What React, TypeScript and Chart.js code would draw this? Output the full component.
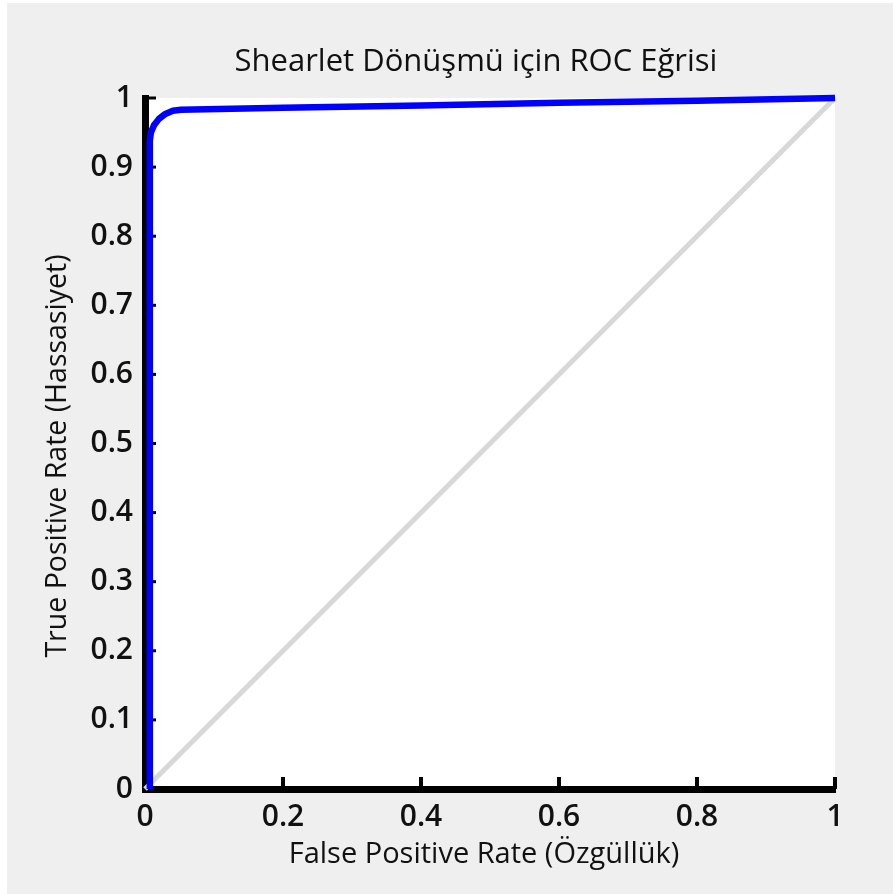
import React, { useEffect, useRef } from "react";
import { Chart, registerables } from "chart.js";

Chart.register(...registerables);

const TITLE = "Shearlet Dönüşmü için ROC Eğrisi";
const X_TITLE = "False Positive Rate (Özgüllük)";
const Y_TITLE = "True Positive Rate (Hassasiyet)";

// ROC curve
const rocFpr = [0.007, 0.007, 0.0085, 0.013, 0.0202, 0.0295, 0.0404, 0.052, 0.2, 0.4, 0.6, 0.8, 1.0];
const rocTpr = [0.0, 0.938, 0.9497, 0.9605, 0.9698, 0.977, 0.9815, 0.983, 0.986, 0.989, 0.993, 0.996, 1.0];

// chance diagonal
const diagFpr = [0, 1];
const diagTpr = [0, 1];

const xTickValues = [0, 0.2, 0.4, 0.6, 0.8, 1];
const yTickValues = [0, 0.1, 0.2, 0.3, 0.4, 0.5, 0.6, 0.7, 0.8, 0.9, 1];

const FONT = "'Open Sans', 'Noto Sans', sans-serif";

const fmt = (v: number) => {
  const r = Math.round(v * 10) / 10;
  return r === 0 ? "0" : r === 1 ? "1" : r.toFixed(1);
};

const backgroundPlugin = {
  id: "bgPlugin",
  beforeDraw(chart: any) {
    const { ctx, width, height, chartArea } = chart;
    ctx.save();
    ctx.fillStyle = "#ffffff";
    ctx.fillRect(0, 0, width, height);
    ctx.fillStyle = "#efefef";
    ctx.fillRect(7, 3, width - 7, height - 3);
    ctx.fillStyle = "#ffffff";
    ctx.fillRect(chartArea.left, chartArea.top, chartArea.right - chartArea.left, chartArea.bottom - chartArea.top);
    ctx.restore();
  },
};

const textPlugin = {
  id: "titles",
  afterDraw(chart: any) {
    const { ctx } = chart;
    ctx.save();
    ctx.fillStyle = "#111111";
    ctx.textAlign = "center";
    ctx.textBaseline = "middle";
    ctx.font = `500 31px ${FONT}`;
    ctx.fillText(TITLE, 476, 62);
    ctx.font = `500 29px ${FONT}`;
    ctx.fillText(X_TITLE, 484, 855);
    ctx.translate(58, 456);
    ctx.rotate(-Math.PI / 2);
    ctx.font = `500 28.5px ${FONT}`;
    ctx.fillText(Y_TITLE, 0, 0);
    ctx.restore();
  },
};

const innerTicksPlugin = {
  id: "innerTicks",
  beforeDatasetsDraw(chart: any) {
    const { ctx, chartArea, scales } = chart;
    ctx.save();
    ctx.strokeStyle = "#000000";
    ctx.lineWidth = 3;
    yTickValues.forEach((v) => {
      const y = scales.y.getPixelForValue(v);
      ctx.beginPath();
      ctx.moveTo(chartArea.left, y);
      ctx.lineTo(chartArea.left + 11, y);
      ctx.stroke();
    });
    ctx.lineWidth = 4;
    xTickValues.forEach((v) => {
      const x = scales.x.getPixelForValue(v);
      ctx.beginPath();
      ctx.moveTo(x, chartArea.bottom);
      ctx.lineTo(x, chartArea.bottom - 12);
      ctx.stroke();
    });
    ctx.restore();
  },
};

export default function App() {
  const canvasRef = useRef<HTMLCanvasElement | null>(null);

  useEffect(() => {
    let chart: Chart | null = null;
    let cancelled = false;
    const make = () => {
      if (cancelled || !canvasRef.current) return;
      chart = new Chart(canvasRef.current, {
        type: "scatter",
        data: {
          datasets: [
            {
              label: "ROC",
              data: rocFpr.map((x, i) => ({ x, y: rocTpr[i] })),
              showLine: true,
              borderColor: "#0000ff",
              backgroundColor: "#0000ff",
              borderWidth: 6.5,
              pointRadius: 0,
              tension: 0,
              borderJoinStyle: "round",
              clip: false,
              order: 0,
            } as any,
            {
              label: "Diagonal",
              data: diagFpr.map((x, i) => ({ x, y: diagTpr[i] })),
              showLine: true,
              borderColor: "#d8d8d8",
              backgroundColor: "#d8d8d8",
              borderWidth: 5,
              pointRadius: 0,
              clip: false,
              order: 1,
            } as any,
          ],
        },
        options: {
          animation: false,
          responsive: false,
          layout: { padding: { left: 0, right: 58, top: 98, bottom: 0 } },
          plugins: {
            legend: { display: false },
            tooltip: { enabled: false },
            title: { display: false },
          },
          scales: {
            x: {
              type: "linear",
              position: "bottom",
              min: 0,
              max: 1,
              afterBuildTicks: (s: any) => {
                s.ticks = xTickValues.map((v) => ({ value: v }));
              },
              afterFit: (s: any) => {
                s.height = 105;
                s.paddingLeft = 0;
                s.paddingRight = 0;
              },
              grid: { display: true, drawOnChartArea: false, drawTicks: false, color: "rgba(0,0,0,0)" },
              border: { display: true, color: "#000000", width: 7 },
              ticks: {
                padding: 10,
                color: "#111111",
                autoSkip: false,
                maxRotation: 0,
                font: { family: FONT, size: 30, weight: "600" as any },
                callback: (v: any) => fmt(Number(v)),
              },
              title: { display: false },
            },
            y: {
              type: "linear",
              position: "left",
              min: 0,
              max: 1,
              afterBuildTicks: (s: any) => {
                s.ticks = yTickValues.map((v) => ({ value: v }));
              },
              afterFit: (s: any) => {
                s.width = 145;
                s.paddingTop = 0;
                s.paddingBottom = 0;
              },
              grid: { display: true, drawOnChartArea: false, drawTicks: false, color: "rgba(0,0,0,0)" },
              border: { display: true, color: "#000000", width: 7 },
              ticks: {
                padding: 12,
                color: "#111111",
                autoSkip: false,
                font: { family: FONT, size: 30, weight: "600" as any },
                callback: (v: any) => fmt(Number(v)),
              },
              title: { display: false },
            },
          },
        },
        plugins: [backgroundPlugin, innerTicksPlugin, textPlugin],
      });
    };
    const fontsApi: any = (document as any).fonts;
    if (fontsApi && fontsApi.load) {
      Promise.all([
        fontsApi.load(`30px 'Open Sans'`),
        fontsApi.load(`500 30px 'Open Sans'`),
        fontsApi.load(`600 30px 'Open Sans'`),
      ]).then(make, make);
    } else {
      make();
    }
    return () => {
      cancelled = true;
      if (chart) chart.destroy();
    };
  }, []);

  return (
    <div style={{ position: "absolute", left: 0, top: 0, width: 893, height: 894 }}>
      <canvas ref={canvasRef} width={893} height={894} style={{ display: "block" }} />
    </div>
  );
}
